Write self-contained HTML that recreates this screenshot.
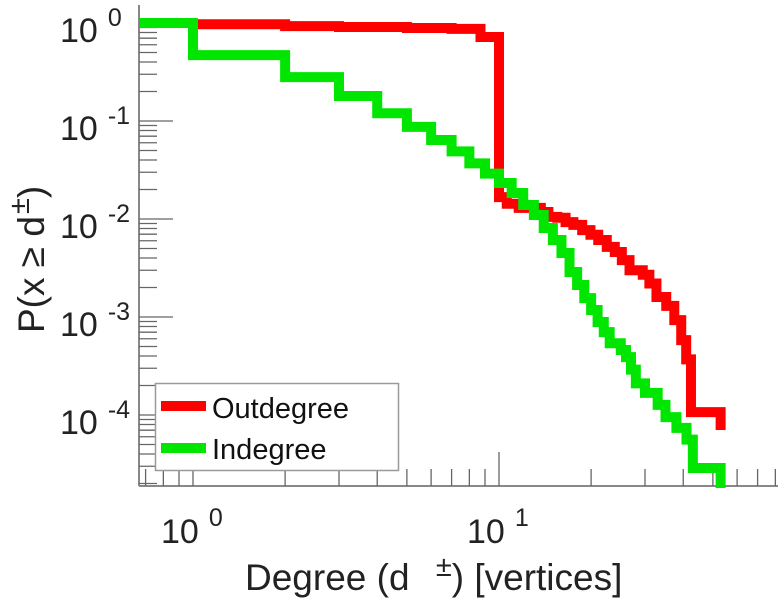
<!DOCTYPE html>
<html><head><meta charset="utf-8"><style>
html,body{margin:0;padding:0;background:#fff;}
svg{display:block;font-family:"Liberation Sans",sans-serif;}
</style></head><body>
<svg id="chart" width="778" height="600" viewBox="0 0 778 600">
<g id="grid"></g>
<g id="series"></g>
<g id="labels"></g>
</svg>
<script>
const inX = [0.667,1,2,3,4,5,6,7,8,9,10,11,12,13,14,15,16,17,18,19,20,21,22,23,25,26,27,28,30,33,35,38,41,43];
const inY = [1,0.47,0.28,0.18,0.12,0.087,0.064,0.049,0.037,0.029,0.0233,0.0184,0.0139,0.0110,0.0081,0.0061,0.0045,0.00288,0.00212,0.00156,0.00118,0.00089,0.00070,0.00054,0.00046,0.00039,0.00029,0.00021,0.000168,0.000127,0.000095,0.000074,0.000056,0.0000288];
const inEndX = 53, inEndY = 0.000015;
const outX = [0.667,1,2,3,5,7,8.7,10,10.6,11.6,13.7,14.5,15.5,16.5,17.5,18.7,19.9,21.1,22.5,23.9,25.2,26.7,29.5,31.0,32.7,35.2,37.4,39.4,40.9,42.4];
const outY = [1,0.97,0.93,0.91,0.89,0.87,0.72,0.0167,0.0143,0.0130,0.0118,0.0105,0.0103,0.0093,0.0087,0.0077,0.0069,0.0061,0.0052,0.0046,0.0038,0.0030,0.0027,0.0022,0.0016,0.0013,0.00093,0.00058,0.00037,0.000107];
const outEndX = 53, outEndY = 0.0000703;
const yDecades = [0,-1,-2,-3,-4];
const xDecades = [0,1];

const NS="http://www.w3.org/2000/svg";
const X0=139, Y0=486, XR=778, YT=5;
function sx(v){return 193+306*Math.log10(v);}
function sy(v){return 23-98*Math.log10(v);}
function mk(tag,attrs,parent){const e=document.createElementNS(NS,tag);for(const k in attrs)e.setAttribute(k,attrs[k]);parent.appendChild(e);return e;}
const grid=document.getElementById('grid'), ser=document.getElementById('series'), lab=document.getElementById('labels');

let ax=mk('line',{x1:X0,y1:YT,x2:X0,y2:Y0,stroke:'#888','stroke-width':2},grid);


let bx=mk('line',{x1:X0,y1:Y0,x2:XR,y2:Y0,stroke:'#888','stroke-width':2},grid);



for(let d=-5; d<=0; d++){
  for(let m=1;m<=9;m++){
    const v=m*Math.pow(10,d); const y=sy(v);
    if(y>Y0||y<YT) continue;
    const len = m===1?34:18;
    const t=mk('line',{x1:X0,y1:y,x2:X0+len,y2:y,stroke:'#666','stroke-width':1.3},grid);
    
    
  }
}
for(let d=-1; d<=1; d++){
  for(let m=1;m<=9;m++){
    const v=m*Math.pow(10,d); const x=sx(v);
    if(x<X0+3||x>XR) continue;
    const len = m===1?34:17;
    const t=mk('line',{x1:x,y1:Y0,x2:x,y2:Y0-len,stroke:'#666','stroke-width':1.3},grid);
    
    
  }
}
yDecades.forEach(d=>{
  const y=sy(Math.pow(10,d));
  const t=mk('text',{x:60,y:y+19,'font-size':34,fill:'#222'},lab);
  t.textContent='10';
  const s=mk('tspan',{dx:10,dy:-16,'font-size':25},t);
  s.textContent=String(d);
  
  
});
xDecades.forEach(d=>{
  const x=sx(Math.pow(10,d));
  const t=mk('text',{x:x-32,y:543,'font-size':34,fill:'#222'},lab);
  t.textContent='10';
  const s=mk('tspan',{dx:10,dy:-17,'font-size':25},t);
  s.textContent=String(d);
  
  
});

function stepPath(xs,ys,ex,ey){
  let p='M'+sx(xs[0])+' '+sy(ys[0]);
  for(let i=1;i<xs.length;i++){p+=' H'+sx(xs[i])+' V'+sy(ys[i]);}
  p+=' H'+sx(ex)+' V'+Math.min(sy(ey),Y0+2);
  return p;
}
const rp=mk('path',{d:stepPath(outX,outY,outEndX,outEndY),fill:'none',stroke:'#ff0000','stroke-width':10,'stroke-linejoin':'miter'},ser);


const gp=mk('path',{d:stepPath(inX,inY,inEndX,inEndY),fill:'none',stroke:'#00e600','stroke-width':10,'stroke-linejoin':'miter'},ser);


</script>
<svg style="position:absolute;left:0;top:0" width="778" height="600">
<g>
<rect x="155.5" y="383.5" width="243" height="87" fill="#fff" stroke="#999" stroke-width="1.5"/>
<line x1="161" y1="406" x2="206" y2="406" stroke="#ff0000" stroke-width="10"/>
<text x="212" y="418" font-size="29" fill="#111" font-family="Liberation Sans, sans-serif">Outdegree</text>
<line x1="161" y1="448" x2="206" y2="448" stroke="#00e600" stroke-width="10"/>
<text x="212" y="459" font-size="29" fill="#111" font-family="Liberation Sans, sans-serif">Indegree</text>
</g>
<text transform="translate(44,333) rotate(-90)" font-size="37" fill="#222" font-family="Liberation Sans, sans-serif">P(x ≥ d<tspan dy="-15" font-size="29" dx="2">±</tspan><tspan dy="15">)</tspan></text>
<text x="245" y="590" font-size="37" fill="#222" font-family="Liberation Sans, sans-serif">Degree (d <tspan dy="-14" font-size="29" dx="16">±</tspan><tspan dy="14">) [vertices]</tspan></text>
</svg>
</body></html>
